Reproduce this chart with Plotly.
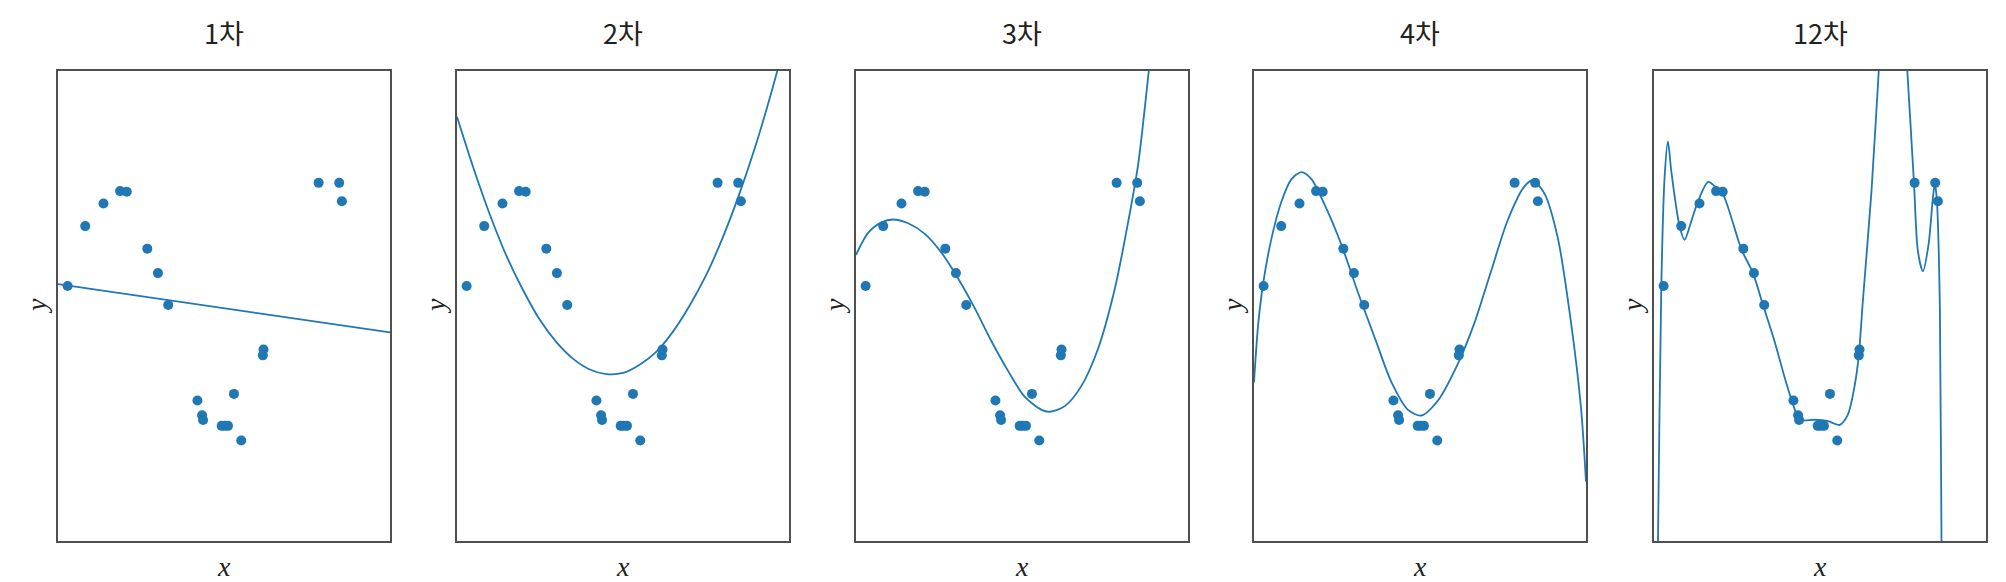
import plotly.graph_objects as go

# ---- data ----
titles = ["1차", "2차", "3차", "4차", "12차"]

x_pts = [0.029, 0.082, 0.137, 0.187, 0.207, 0.269, 0.301, 0.332, 0.420, 0.434,
         0.437, 0.493, 0.502, 0.512, 0.530, 0.552, 0.617, 0.619, 0.785, 0.847, 0.855]
y_pts = [0.17, 0.68, 0.872, 0.978, 0.972, 0.488, 0.28, 0.008, -0.804, -0.93,
         -0.97, -1.02, -1.02, -1.02, -0.748, -1.144, -0.42, -0.37, 1.048, 1.048, 0.892]

fit1_x = [0.0, 1.0]
fit1_y = [0.186, -0.224]

fit2_x = [0.0, 0.05, 0.1, 0.15, 0.2, 0.25, 0.3, 0.35, 0.4, 0.45, 0.5,
          0.55, 0.6, 0.65, 0.7, 0.75, 0.8, 0.85, 0.9, 0.95, 1.0]
fit2_y = [1.61, 1.17, 0.77, 0.42, 0.13, -0.12, -0.31, -0.45, -0.54, -0.58, -0.57,
          -0.50, -0.39, -0.22, 0.0, 0.26, 0.58, 0.95, 1.37, 1.85, 2.37]

fit3_x = [0.0, 0.037, 0.077, 0.112, 0.157, 0.208, 0.258, 0.308, 0.358, 0.408,
          0.458, 0.508, 0.559, 0.584, 0.629, 0.679, 0.729, 0.779, 0.819, 0.850,
          0.882, 0.9]
fit3_y = [0.436, 0.624, 0.712, 0.736, 0.704, 0.612, 0.452, 0.232, -0.02, -0.30,
          -0.552, -0.772, -0.884, -0.90, -0.852, -0.68, -0.364, 0.14, 0.704, 1.208,
          2.0, 2.45]

fit4_x = [0.0, 0.013, 0.028, 0.053, 0.083, 0.113, 0.143, 0.173, 0.213, 0.264,
          0.314, 0.364, 0.414, 0.464, 0.504, 0.554, 0.614, 0.664, 0.714, 0.765,
          0.815, 0.840, 0.875, 0.915, 0.955, 0.985, 1.0]
fit4_y = [-0.648, -0.144, 0.2, 0.58, 0.892, 1.08, 1.14, 1.08, 0.86, 0.516,
          0.108, -0.272, -0.648, -0.884, -0.932, -0.804, -0.492, -0.144, 0.296, 0.736,
          1.02, 1.068, 0.956, 0.58, -0.144, -0.868, -1.496]

fit12_x = [0.0, 0.012, 0.022, 0.032, 0.042, 0.052, 0.077, 0.092, 0.110, 0.130,
           0.163, 0.183, 0.208, 0.263, 0.298, 0.328, 0.363, 0.394, 0.419, 0.439,
           0.484, 0.524, 0.559, 0.584, 0.605, 0.617, 0.629, 0.655, 0.677, 0.72,
           0.763, 0.783, 0.795, 0.810, 0.827, 0.840, 0.846, 0.852, 0.861, 0.866, 0.88]
fit12_y = [-4.5, -2.0, 0.17, 1.1, 1.40, 1.15, 0.68, 0.564, 0.70, 0.872,
           1.056, 1.02, 0.948, 0.484, 0.28, 0.012, -0.30, -0.612, -0.84, -0.968,
           -0.968, -0.98, -1.012, -0.924, -0.668, -0.416, 0.04, 0.976, 2.0, 3.9,
           2.0, 1.048, 0.464, 0.296, 0.524, 0.92, 1.04, 0.90, 0.0, -2.0, -5.0]

fits_x = [fit1_x, fit2_x, fit3_x, fit4_x, fit12_x]
fits_y = [fit1_y, fit2_y, fit3_y, fit4_y, fit12_y]

# ---- layout ----
W, H = 2006, 582
lefts = [50, 449, 848, 1246, 1646]
pw = 332
top_px, bot_px = 63, 533
blue = "#1f77b4"

fig = go.Figure()
annotations = []
for i in range(5):
    ax = "" if i == 0 else str(i + 1)
    xa, ya = "x" + ax, "y" + ax
    fig.add_trace(go.Scatter(x=x_pts, y=y_pts, mode="markers", xaxis=xa, yaxis=ya,
                             marker=dict(color=blue, size=10), showlegend=False,
                             hoverinfo="skip"))
    shape = "linear" if i == 0 else "spline"
    fig.add_trace(go.Scatter(x=fits_x[i], y=fits_y[i], mode="lines", xaxis=xa, yaxis=ya,
                             line=dict(color=blue, width=1.8, shape=shape, smoothing=0.8),
                             showlegend=False, hoverinfo="skip"))
    d0 = lefts[i] / W
    d1 = (lefts[i] + pw) / W
    axis_common = dict(showgrid=False, zeroline=False, showticklabels=False, ticks="",
                       showline=True, mirror=True, linecolor="#505050", linewidth=2)
    fig.layout["xaxis" + ax] = dict(domain=[d0, d1], range=[0, 1], anchor=ya, **axis_common)
    fig.layout["yaxis" + ax] = dict(domain=[1 - bot_px / H, 1 - top_px / H], range=[-2, 2],
                                    anchor=xa, **axis_common)
    cx = (lefts[i] + pw / 2) / W
    annotations.append(dict(text=titles[i], x=cx, y=1 - 25 / H, xref="paper", yref="paper",
                            showarrow=False, xanchor="center", yanchor="middle",
                            font=dict(family="Noto Sans CJK KR", size=27, color="#222222")))
    annotations.append(dict(text="<i>x</i>", x=cx, y=1 - 558 / H, xref="paper", yref="paper",
                            showarrow=False, xanchor="center", yanchor="middle",
                            font=dict(family="Liberation Serif", size=28, color="#222222")))
    annotations.append(dict(text="<i>y</i>", x=(lefts[i] - 22) / W, y=1 - 298 / H,
                            xref="paper", yref="paper", textangle=-90,
                            showarrow=False, xanchor="center", yanchor="middle",
                            font=dict(family="Liberation Serif", size=28, color="#222222")))

fig.update_layout(width=W, height=H, margin=dict(l=0, r=0, t=0, b=0),
                  paper_bgcolor="white", plot_bgcolor="white", annotations=annotations)

fig.write_html("out.html")
